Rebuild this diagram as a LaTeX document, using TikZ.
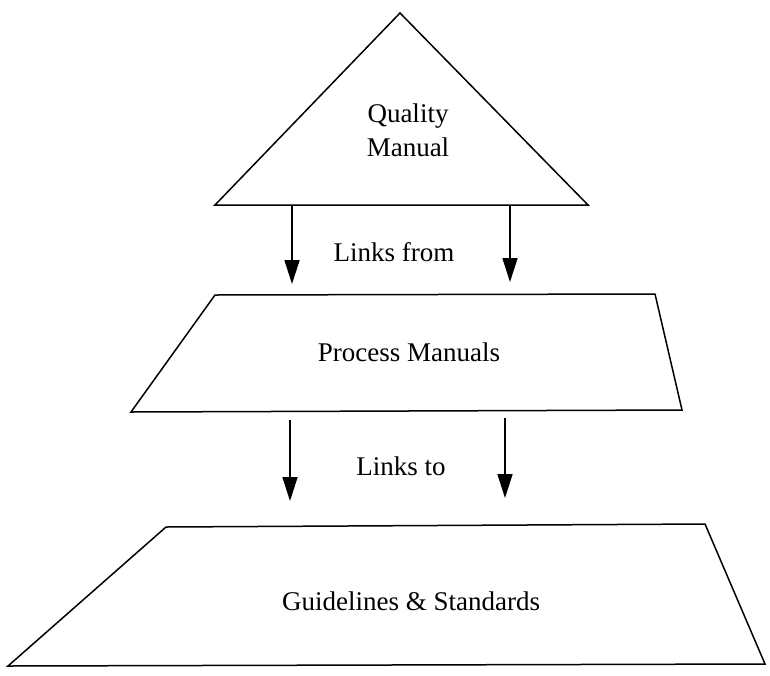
\documentclass[tikz,border=0pt]{standalone}
\usepackage{fontspec}
\setmainfont{Liberation Serif}
\usetikzlibrary{arrows.meta}

\tikzset{
  tier/.style={draw=black, line width=1.5pt, line join=miter},
  label/.style={font=\fontsize{27}{30}\selectfont, inner sep=0pt, align=center},
  link/.style={draw=black, line width=1.7pt, -{Triangle[width=15pt,length=24pt]}},
}

\begin{document}
\begin{tikzpicture}[x=1pt,y=-1pt]
  \useasboundingbox[fill=white] (0,0) rectangle (770,675);

  % top tier: triangle
  \coordinate (qa) at (400,13);
  \coordinate (ql) at (215,205);
  \coordinate (qr) at (588,205);
  \draw[tier] (qa) -- (qr) -- (ql) -- cycle;
  \node[label] (quality) at (408,116) {Quality};
  \node[label] (manual) at (408,147) {Manual};

  % middle tier: trapezoid
  \coordinate (p1) at (215,295);
  \coordinate (p2) at (655,294);
  \coordinate (p3) at (682,410);
  \coordinate (p4) at (131,412);
  \draw[tier] (p1) -- (p2) -- (p3) -- (p4) -- cycle;
  \node[label] (process) at (409,352) {Process Manuals};

  % bottom tier: trapezoid
  \coordinate (g1) at (166,527);
  \coordinate (g2) at (705,524);
  \coordinate (g3) at (765,664);
  \coordinate (g4) at (8,666);
  \draw[tier] (g1) -- (g2) -- (g3) -- (g4) -- cycle;
  \node[label] (guide) at (411,601) {Guidelines \& Standards};

  % connectors between tiers
  \coordinate (a1s) at (292,206);
  \coordinate (a1e) at (292,284);
  \coordinate (a2s) at (510,206);
  \coordinate (a2e) at (510,282);
  \draw[link] (a1s) -- (a1e);
  \draw[link] (a2s) -- (a2e);
  \node[label] (from) at (394,252) {Links from};

  \coordinate (b1s) at (290,420);
  \coordinate (b1e) at (290,501);
  \coordinate (b2s) at (505,418);
  \coordinate (b2e) at (505,498);
  \draw[link] (b1s) -- (b1e);
  \draw[link] (b2s) -- (b2e);
  \node[label] (to) at (401,466) {Links to};
\end{tikzpicture}
\end{document}
